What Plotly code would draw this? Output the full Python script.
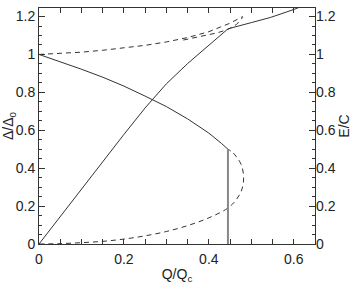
import plotly.graph_objects as go

# Delta / Delta0 stable branch (solid)
q_delta = [0, 0.05, 0.1, 0.15, 0.2, 0.25, 0.3, 0.35, 0.4, 0.43, 0.445]
delta = [1.0, 0.962, 0.922, 0.88, 0.833, 0.78, 0.725, 0.66, 0.585, 0.53, 0.5]

# Delta / Delta0 unstable branch (dashed)
q_delta_u = [0, 0.05, 0.1, 0.15, 0.2, 0.25, 0.3, 0.35, 0.4, 0.445, 0.465, 0.478, 0.482, 0.476, 0.465, 0.455, 0.445]
delta_u = [0, 0.002, 0.007, 0.014, 0.026, 0.043, 0.066, 0.097, 0.138, 0.19, 0.235, 0.29, 0.355, 0.42, 0.46, 0.485, 0.5]

# transition line
q_trans = [0.445, 0.445]
v_trans = [0, 0.5]

# Energy E/C (solid): superconducting then normal
q_energy = [0, 0.05, 0.1, 0.15, 0.2, 0.25, 0.3, 0.35, 0.4, 0.445, 0.5, 0.545, 0.6, 0.62]
energy = [0, 0.145, 0.29, 0.435, 0.578, 0.718, 0.845, 0.952, 1.05, 1.135, 1.168, 1.195, 1.237, 1.255]

# Energy, upper dashed branch
q_energy_u = [0, 0.05, 0.1, 0.15, 0.2, 0.25, 0.3, 0.35, 0.4, 0.45, 0.48]
energy_u = [1.0, 1.004, 1.012, 1.022, 1.034, 1.048, 1.066, 1.089, 1.12, 1.165, 1.2]

# Energy, lower dashed branch
q_energy_m = [0.34, 0.38, 0.42, 0.445, 0.465, 0.48]
energy_m = [1.076, 1.094, 1.114, 1.132, 1.158, 1.195]

LC = "#333333"
fig = go.Figure()
fig.add_trace(go.Scatter(x=q_delta, y=delta, mode="lines", line=dict(color=LC, width=1)))
fig.add_trace(go.Scatter(x=q_delta_u, y=delta_u, mode="lines", line=dict(color=LC, width=1, dash="5px,4px"), line_shape="spline"))
fig.add_trace(go.Scatter(x=q_trans, y=v_trans, mode="lines", line=dict(color="#888888", width=2)))
fig.add_trace(go.Scatter(x=q_energy, y=energy, mode="lines", line=dict(color=LC, width=1), yaxis="y2"))
fig.add_trace(go.Scatter(x=q_energy_u, y=energy_u, mode="lines", line=dict(color=LC, width=1, dash="5px,4px"), yaxis="y2"))
fig.add_trace(go.Scatter(x=q_energy_m, y=energy_m, mode="lines", line=dict(color=LC, width=1, dash="5px,4px"), yaxis="y2"))

font = dict(family="Liberation Sans, Arial, sans-serif", size=14, color="#222222")
yr = [0, 1.245]
ytv = [0, 0.2, 0.4, 0.6, 0.8, 1.0, 1.2]
ytt = ["0", "0.2", "0.4", "0.6", "0.8", "1", "1.2"]
fig.update_layout(
    width=358, height=284,
    margin=dict(l=39, r=43, t=8, b=40),
    paper_bgcolor="white", plot_bgcolor="white",
    showlegend=False,
    font=font,
    xaxis=dict(range=[0, 0.65], tickvals=[0, 0.2, 0.4, 0.6], ticktext=["0", "0.2", "0.4", "0.6"],
               ticks="inside", ticklen=5, tickcolor="#333", showline=True, linecolor="#333", linewidth=1,
               mirror="allticks", showgrid=False, zeroline=False, ticklabelstandoff=2,
               tickfont=font, automargin=False,
               minor=dict(dtick=0.05, ticks="inside", ticklen=4, tickcolor="#333", showgrid=False),
               title=dict(text="Q/Q<sub>c</sub>", standoff=6, font=font)),
    yaxis=dict(range=yr, tickvals=ytv, ticktext=ytt,
               ticks="inside", ticklen=6, tickcolor="#333", showline=True, linecolor="#333", linewidth=1,
               mirror=True, showgrid=False, zeroline=False, tickfont=font, automargin=False,
               minor=dict(dtick=0.05, ticks="inside", ticklen=3, tickcolor="#333", showgrid=False),
               title=dict(text="Δ/Δ<sub>0</sub>", standoff=2, font=font)),
    yaxis2=dict(range=yr, overlaying="y", side="right", tickvals=ytv, ticktext=ytt,
                ticks="inside", ticklen=6, tickcolor="#333", showline=False, showgrid=False, zeroline=False,
                tickfont=font, automargin=False,
                minor=dict(dtick=0.05, ticks="inside", ticklen=3, tickcolor="#333", showgrid=False),
                title=dict(text="E/C", standoff=2, font=font)),
)
fig.write_html("out.html")
